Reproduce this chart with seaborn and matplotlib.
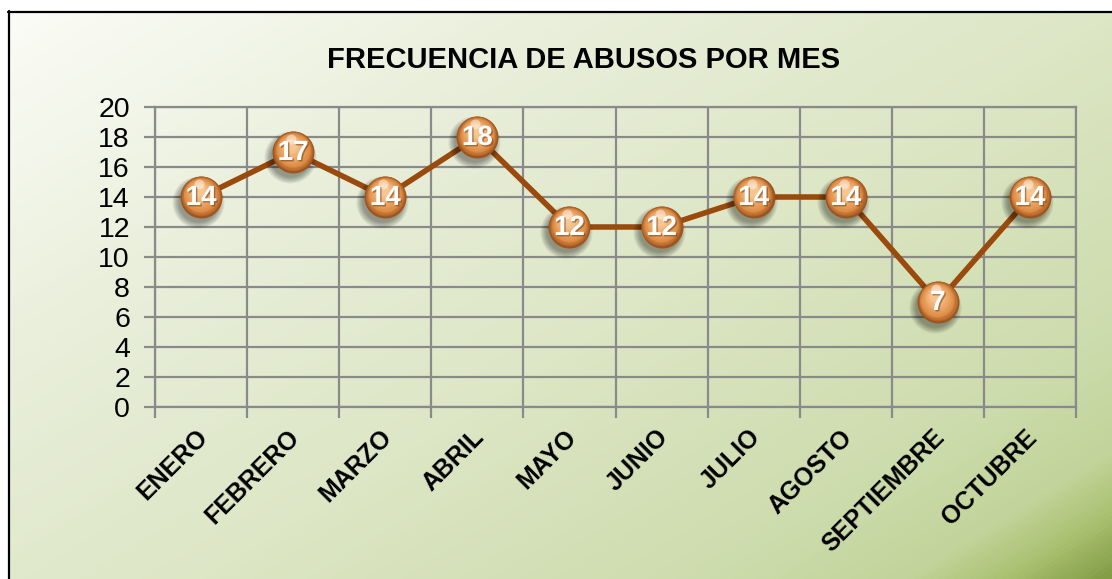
import numpy as np
import matplotlib
matplotlib.use("Agg")
import matplotlib.pyplot as plt
import matplotlib.transforms as mtransforms
import matplotlib.patheffects as pe
from matplotlib.colors import LinearSegmentedColormap, to_rgb
import seaborn as sns
import pandas as pd

# Data
meses = ["ENERO", "FEBRERO", "MARZO", "ABRIL", "MAYO", "JUNIO",
         "JULIO", "AGOSTO", "SEPTIEMBRE", "OCTUBRE"]
frecuencia = [14, 17, 14, 18, 12, 12, 14, 14, 7, 14]
y_ticks = [0, 2, 4, 6, 8, 10, 12, 14, 16, 18, 20]
titulo = "FRECUENCIA DE ABUSOS POR MES"

sns.set_theme(style="white")
plt.rcParams["font.family"] = ["Liberation Sans", "DejaVu Sans"]
plt.rcParams["text.color"] = "black"

W, H, DPI = 1112, 579, 100
fig = plt.figure(figsize=(W / DPI, H / DPI), dpi=DPI)
fig.patch.set_facecolor("white")

# Diagonal gradient background of the chart frame
bg = fig.add_axes([8 / W, 0, 1 - 8 / W, 1 - 11 / H], zorder=-10)
bw, bh = W - 8, H - 11
xx, yy = np.meshgrid(np.linspace(0, 1, bw), np.linspace(0, 1, bh))
t = (xx * bw * 0.62 + yy * bh * 1.0) / (bw * 0.62 + bh * 1.0)
stops = [(0.0, "#fbfcf6"), (0.30, "#e8eed9"), (0.55, "#dde6c5"),
         (0.80, "#cddcad"), (0.90, "#c2d49a"), (0.95, "#a9c070"),
         (1.0, "#819c45")]
cmap = LinearSegmentedColormap.from_list("fondo", stops)
bg.imshow(cmap(t), aspect="auto", extent=[0, 1, 0, 1], origin="upper",
          interpolation="bilinear")
bg.set_xlim(0, 1)
bg.set_ylim(0, 1)
bg.axis("off")
# frame border (left and top edges)
fig.add_artist(plt.Line2D([8.5 / W, 8.5 / W], [0, 1 - 11 / H], color="black",
                          lw=1.6, transform=fig.transFigure))
fig.add_artist(plt.Line2D([8 / W, 1], [1 - 11.5 / H, 1 - 11.5 / H],
                          color="black", lw=1.6, transform=fig.transFigure))

# Plot area
left, right, top, bottom = 155, 1076, 107, 407
ax = fig.add_axes([left / W, 1 - bottom / H, (right - left) / W,
                   (bottom - top) / H])
ax.set_facecolor("none")

df = pd.DataFrame({"pos": np.arange(len(meses)), "mes": meses,
                   "frecuencia": frecuencia})

grid_c = "#8a8a8a"
ax.set_xlim(-0.5, len(meses) - 0.5)
ax.set_ylim(0, 20)
ax.set_yticks(y_ticks)
ax.set_yticklabels([str(v) for v in y_ticks], fontsize=20.5)
ax.set_xticks(df["pos"])
ax.set_xticks(np.arange(-0.5, len(meses)), minor=True)
ax.set_xticklabels(meses, rotation=45, ha="right", va="top",
                   rotation_mode="anchor", fontsize=18, fontweight="bold")
ax.tick_params(axis="x", which="major", length=0, pad=13, labelcolor="black")
ax.tick_params(axis="x", which="minor", length=8, width=1.6, color=grid_c,
               direction="out", bottom=True)
ax.tick_params(axis="y", length=8, width=1.6, color=grid_c, direction="out",
               left=True, pad=10, labelcolor="black")
ax.grid(True, axis="y", color=grid_c, lw=1.6)
ax.grid(True, axis="x", which="minor", color=grid_c, lw=1.6)
ax.grid(False, axis="x", which="major")
for s in ax.spines.values():
    s.set_color(grid_c)
    s.set_linewidth(1.6)
ax.set_axisbelow(True)

# nudge x labels so their end sits at the category centre
offset = mtransforms.ScaledTranslation(-4 / 72, 0, fig.dpi_scale_trans)
for lab in ax.get_xticklabels():
    lab.set_transform(lab.get_transform() + offset)

# Line
sns.lineplot(data=df, x="pos", y="frecuencia", ax=ax, color="#9a4a0c",
             lw=4.0, zorder=3, legend=False)
ax.set_xlabel("")
ax.set_ylabel("")

# Shaded sphere markers
R = 21  # pixels
px2pt = 72 / DPI
xs, ys = df["pos"].to_numpy(), df["frecuencia"].to_numpy()

def shifted(dx_px, dy_px):
    return ax.transData + mtransforms.ScaledTranslation(
        dx_px / DPI, dy_px / DPI, fig.dpi_scale_trans)

# soft shadow
for k in range(6):
    r = R + 5 - k * 1.2
    ax.scatter(xs, ys, s=(2 * r * px2pt) ** 2, color="black", alpha=0.07,
               lw=0, zorder=4, transform=shifted(-3, -5))

dark = np.array(to_rgb("#9c5420"))
mid = np.array(to_rgb("#df8d45"))
light = np.array(to_rgb("#f6c590"))
n = 14
for k in range(n):
    f = k / (n - 1)
    r = R * (1 - 0.72 * f)
    col = dark + (mid - dark) * min(f / 0.28, 1) if f < 0.28 else \
        mid + (light - mid) * (f - 0.28) / 0.72
    ax.scatter(xs, ys, s=(2 * r * px2pt) ** 2, color=np.clip(col, 0, 1),
               lw=0, zorder=5, transform=shifted(-2 * f, 7 * f))
# specular highlight
ax.scatter(xs, ys, s=(2 * 5 * px2pt) ** 2, color="white", alpha=0.45, lw=0,
           zorder=5, transform=shifted(-2, 13))

for x, y in zip(xs, ys):
    ax.text(x, y, str(y), transform=shifted(0, -1), ha="center",
            va="center", fontsize=20, fontweight="bold", color="white",
            zorder=6,
            path_effects=[pe.withSimplePatchShadow(offset=(1, -1),
                                                   shadow_rgbFace="#6b3306",
                                                   alpha=0.5)])

fig.text(584 / W, 1 - 60 / H, titulo, ha="center", va="center",
         fontsize=21, fontweight="bold", color="black")

fig.savefig("out.png", dpi=DPI)
